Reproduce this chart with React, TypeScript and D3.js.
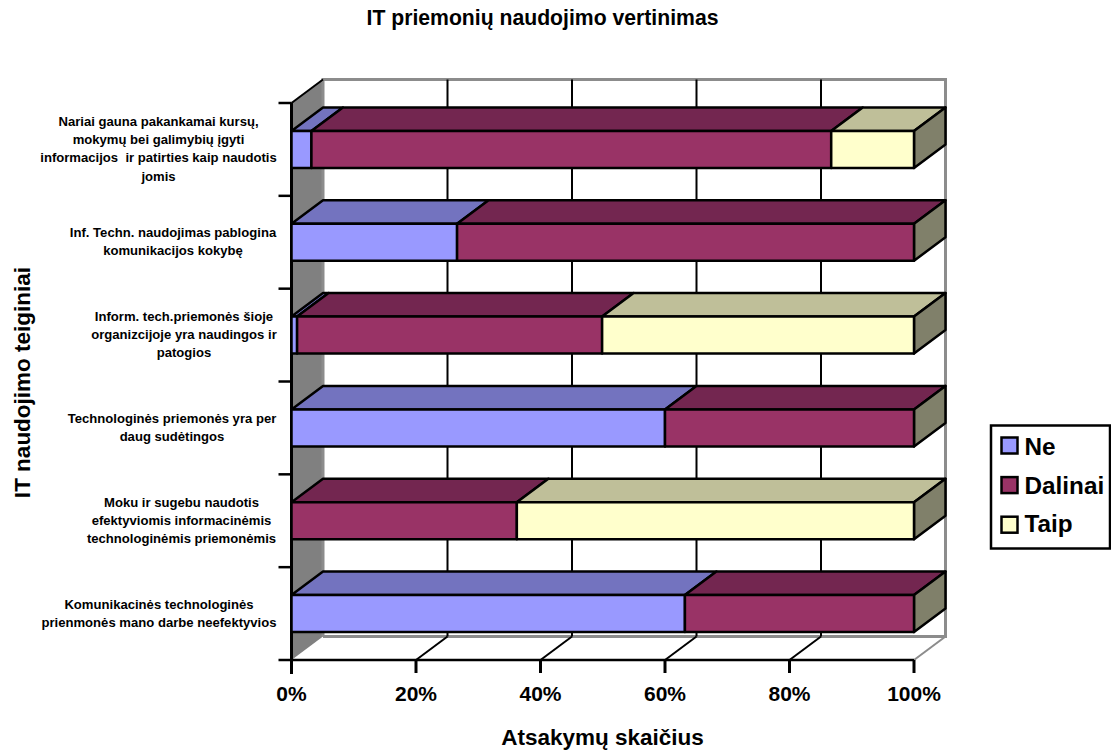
import React from "react";
import * as d3 from "d3";

const title = "IT priemonių naudojimo vertinimas";
const xTitle = "Atsakymų skaičius";
const yTitle = "IT naudojimo teiginiai";

// Rows run top to bottom; each label is already broken into its lines.
const categoryLabels: string[][] = [
  ["Nariai gauna pakankamai kursų,", "mokymų bei galimybių įgyti", "informacijos  ir patirties kaip naudotis", "jomis"],
  ["Inf. Techn. naudojimas pablogina", "komunikacijos kokybę"],
  ["Inform. tech.priemonės šioje", "organizcijoje yra naudingos ir", "patogios"],
  ["Technologinės priemonės yra per", "daug sudėtingos"],
  ["Moku ir sugebu naudotis", "efektyviomis informacinėmis", "technologinėmis priemonėmis"],
  ["Komunikacinės technologinės", "prienmonės mano darbe neefektyvios"],
];
const labelCenters = [158.5, 173, 184, 172, 181.5, 159];

const seriesNames = ["Ne", "Dalinai", "Taip"];
const ne = [3.2, 26.6, 0.9, 60, 0, 63.2];
const dalinai = [83.5, 73.4, 49, 40, 36.2, 36.8];
const taip = [13.3, 0, 50.1, 0, 63.8, 0];

const faceColors = ["#9999ff", "#993366", "#ffffcc"];
const topColors = ["#7373bf", "#732650", "#bfbf99"];
const sideColor = "#80806a";
const xTicks = [0, 20, 40, 60, 80, 100];

const left = 291.5;
const right = 914;
const top = 103;
const bottom = 660;
const depthX = 31.5;
const depthY = -23.5;
const barThickness = 37;

const x = d3.scaleLinear().domain([0, 100]).range([left, right]);
const rowIndex = d3.range(categoryLabels.length);
const y = d3.scaleBand<number>().domain(rowIndex).range([top, bottom]);

const pts = (p: [number, number][]) => p.map((q) => q.join(",")).join(" ");
const font = "'Liberation Sans', Arial, sans-serif";
const wallGray = "#808080";
const edgeGray = "#8c8c8c";

export default function App() {
  const stacks = d3.stack<number>()
    .keys([0, 1, 2] as unknown as string[])
    .value((i, k) => [ne, dalinai, taip][+k][i])(rowIndex);

  return (
    <svg
      width={1111}
      height={751}
      style={{ position: "absolute", left: 0, top: 0, background: "#fff" }}
      fontFamily={font}
    >
      {/* side wall */}
      <polygon
        points={pts([[left, top], [left + depthX, top + depthY], [left + depthX, bottom + depthY], [left, bottom]])}
        fill={wallGray}
      />
      {/* back wall outline */}
      <polyline
        points={pts([[left + depthX, bottom + depthY], [left + depthX, top + depthY], [right + depthX, top + depthY], [right + depthX, bottom + depthY], [left + depthX, bottom + depthY]])}
        fill="none"
        stroke={edgeGray}
        strokeWidth={3}
      />
      <line x1={right} y1={bottom} x2={right + depthX} y2={bottom + depthY} stroke={edgeGray} strokeWidth={2} />

      {/* grid on the back wall and floor */}
      {xTicks.slice(1, -1).map((t) => (
        <g key={t} stroke="#000" strokeWidth={2}>
          <line x1={x(t) + depthX} y1={top + depthY} x2={x(t) + depthX} y2={bottom + depthY} />
          <line x1={x(t)} y1={bottom} x2={x(t) + depthX} y2={bottom + depthY} />
        </g>
      ))}

      {/* axes */}
      <line x1={left} y1={top} x2={left + depthX} y2={top + depthY} stroke="#000" strokeWidth={2} />
      <line x1={left} y1={top} x2={left} y2={bottom + 14} stroke="#000" strokeWidth={3} />
      <line x1={left - 13} y1={bottom} x2={right} y2={bottom} stroke="#000" strokeWidth={2.5} />
      {rowIndex.map((i) => (
        <line key={i} x1={left - 13} x2={left} y1={y(i)!} y2={y(i)!} stroke="#000" strokeWidth={2.5} />
      ))}
      {xTicks.map((t) => (
        <line key={t} x1={x(t)} x2={x(t)} y1={bottom} y2={bottom + 13} stroke="#000" strokeWidth={3} />
      ))}

      {/* stacked bars, drawn from the back row to the front */}
      {rowIndex.map((i) => {
        const fy = y(i)! + (y.bandwidth() - barThickness) / 2;
        const by = fy + barThickness;
        const segs = stacks
          .map((s, k) => ({ k, x0: s[i][0], x1: s[i][1] }))
          .filter((d) => d.x1 > d.x0);
        const last = segs[segs.length - 1];
        return (
          <g key={i} stroke="#000" strokeWidth={2.5} strokeLinejoin="round">
            {segs.map((d) => (
              <polygon
                key={`t${d.k}`}
                fill={topColors[d.k]}
                points={pts([[x(d.x0), fy], [x(d.x0) + depthX, fy + depthY], [x(d.x1) + depthX, fy + depthY], [x(d.x1), fy]])}
              />
            ))}
            <polygon
              fill={sideColor}
              points={pts([[x(last.x1), fy], [x(last.x1) + depthX, fy + depthY], [x(last.x1) + depthX, by + depthY], [x(last.x1), by]])}
            />
            {segs.map((d) => (
              <rect
                key={`f${d.k}`}
                x={x(d.x0)}
                y={fy}
                width={x(d.x1) - x(d.x0)}
                height={barThickness}
                fill={faceColors[d.k]}
              />
            ))}
          </g>
        );
      })}

      {/* category labels */}
      {categoryLabels.map((lines, i) => {
        const mid = y(i)! + y.bandwidth() / 2 - 0.5;
        return (
          <text key={i} fontSize={13.1} fontWeight={700} textAnchor="middle">
            {lines.map((l, j) => (
              <tspan
                key={j}
                x={labelCenters[i]}
                y={mid + (j - (lines.length - 1) / 2) * 18.1 + 4.5}
                style={{ whiteSpace: "pre" }}
              >
                {l}
              </tspan>
            ))}
          </text>
        );
      })}

      {/* axis tick labels */}
      {xTicks.map((t) => (
        <text key={t} x={x(t)} y={701} fontSize={21} fontWeight={700} textAnchor="middle">
          {t}%
        </text>
      ))}

      {/* titles */}
      <text x={542.5} y={25} fontSize={21.2} fontWeight={700} textAnchor="middle">{title}</text>
      <text x={602.5} y={745} fontSize={22.5} fontWeight={700} textAnchor="middle">{xTitle}</text>
      <text transform="translate(29.5,382.5) rotate(-90)" fontSize={22.5} fontWeight={700} textAnchor="middle">{yTitle}</text>

      {/* legend */}
      <rect x={991} y={425.5} width={119} height={123} fill="#fff" stroke="#000" strokeWidth={2.5} />
      {seriesNames.map((n, k) => (
        <g key={n}>
          <rect x={1001.5} y={437.5 + k * 39.6} width={16} height={16} fill={faceColors[k]} stroke="#000" strokeWidth={2.5} />
          <text x={1024.5} y={455 + k * 38.6} fontSize={24.3} fontWeight={700}>{n}</text>
        </g>
      ))}
    </svg>
  );
}
